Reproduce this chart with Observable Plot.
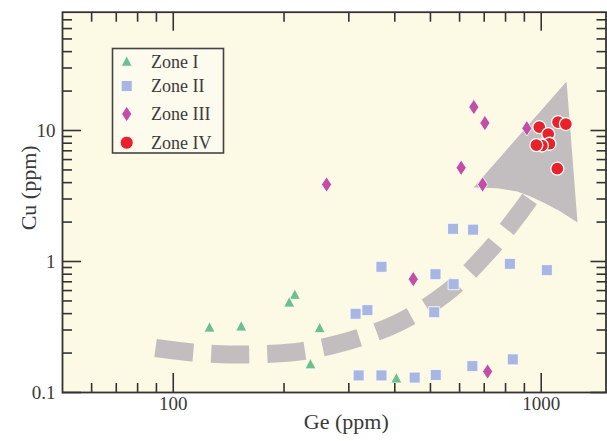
<!DOCTYPE html>
<html><head><meta charset="utf-8">
<script src="https://cdn.jsdelivr.net/npm/d3@7"></script>
<script src="https://cdn.jsdelivr.net/npm/@observablehq/plot@0.6"></script>
<style>
body{margin:0;background:#fff;}
#wrap{position:relative;width:607px;height:441px;}
#legend{position:absolute;left:0;top:0;pointer-events:none;}
</style></head><body><div id="wrap"></div>
<script>
// ---- data ----
const zone1Ge = [125.5, 153, 214, 206.6, 250, 236, 404];
const zone1Cu = [0.313, 0.319, 0.557, 0.486, 0.31, 0.164, 0.128];
const zone2Ge = [319, 368, 453, 517, 650, 837, 313, 337, 512, 578, 516, 368, 822, 1036, 576, 653];
const zone2Cu = [0.135, 0.135, 0.130, 0.136, 0.159, 0.179, 0.399, 0.425, 0.41, 0.671, 0.80, 0.911, 0.96, 0.859, 1.776, 1.75];
const zone3Ge = [656, 703, 914, 606, 693, 261, 449, 715];
const zone3Cu = [15.1, 11.4, 10.4, 5.19, 3.87, 3.87, 0.733, 0.1445];
const zone4Ge = [988, 1045, 1111, 1167, 1053, 1004, 970, 1106];
const zone4Cu = [10.6, 9.39, 11.6, 11.2, 7.92, 7.68, 7.74, 5.11];
// gray trend arrow (dashed band + head), in data units
const bandGe = [89.5, 112.8, 143.2, 181.6, 221.8, 290, 404.5, 546, 706, 878.6, 1027];
const bandCu = [0.2186, 0.202, 0.195, 0.197, 0.206, 0.241, 0.336, 0.56, 1.13, 2.41, 4.46];
const headGe = [1172, 1255, 1128, 1027, 935, 861, 759, 655];
const headCu = [23.7, 1.985, 2.41, 2.77, 3.13, 3.42, 3.63, 3.67];
// ticks
const xMajor = [100, 1000];
const xMinor = [60, 70, 80, 90, 200, 300, 400, 500, 600, 700, 800, 900];
const yMajor = [0.1, 1, 10];
const yMinor = [0.2,0.3,0.4,0.5,0.6,0.7,0.8,0.9,2,3,4,5,6,7,8,9,20,30,40,50,60,70];
const zoneNames = ["Zone I", "Zone II", "Zone III", "Zone IV"];
const zoneColors = ["#6dc08b", "#a8b7e2", "#c24fa6", "#e8222a"];

const FONT = '"Liberation Serif", "Times New Roman", serif';
const INK = "#3a3a3a";
const GRAY = "#c2bdbe";

const symTri = {draw(c, s){const r=Math.sqrt(s/Math.PI); c.moveTo(0,-r*1.1); c.lineTo(r,r*0.82); c.lineTo(-r,r*0.82); c.closePath();}};
const symSq = {draw(c, s){const r=Math.sqrt(s/Math.PI); c.rect(-r,-r,2*r,2*r);}};
const symDia = {draw(c, s){const r=Math.sqrt(s/Math.PI); c.moveTo(0,-r*1.3); c.lineTo(r*0.85,0); c.lineTo(0,r*1.3); c.lineTo(-r*0.85,0); c.closePath();}};
const symCirc = {draw(c, s){const r=Math.sqrt(s/Math.PI); c.moveTo(r,0); c.arc(0,0,r,0,2*Math.PI);}};
const syms = [symTri, symSq, symDia, symCirc];
const sizes = [5.5, 5.5, 6, 6.5];

const zones = [[zone1Ge, zone1Cu], [zone2Ge, zone2Cu], [zone3Ge, zone3Cu], [zone4Ge, zone4Cu]];
const idx = a => a.map((_, i) => i);

const pointMarks = zones.map(([gx, cy], k) =>
  Plot.dot(idx(gx), {x: i => gx[i], y: i => cy[i], symbol: syms[k], r: sizes[k],
    fill: zoneColors[k], stroke: "white", strokeWidth: k === 3 ? 1.3 : 0.8}));

const tickStyle = {stroke: "#333", strokeWidth: 1.6, tickFormat: () => "", label: null};

const chart = Plot.plot({
  width: 607, height: 441,
  marginLeft: 62, marginRight: 1.5, marginTop: 11.7, marginBottom: 49,
  style: {fontFamily: FONT, color: INK, background: "white", overflow: "visible"},
  x: {type: "log", domain: [50, 1500]},
  y: {type: "log", domain: [0.1, 80]},
  marks: [
    Plot.frame({fill: "#fcf9e4", stroke: null}),
    Plot.line(idx(bandGe), {x: i => bandGe[i], y: i => bandCu[i], stroke: GRAY, strokeWidth: 18,
      strokeDasharray: "38,18", strokeLinecap: "butt", curve: "catmull-rom"}),
    Plot.line(idx(headGe), {x: i => headGe[i], y: i => headCu[i], fill: GRAY, stroke: "none", curve: "linear-closed"}),
    ...pointMarks,
    Plot.axisX({...tickStyle, anchor: "bottom", ticks: xMajor, tickSize: -19}),
    Plot.axisX({...tickStyle, anchor: "bottom", ticks: xMinor, tickSize: -9}),
    Plot.axisX({...tickStyle, anchor: "top", ticks: xMajor, tickSize: -18}),
    Plot.axisX({...tickStyle, anchor: "top", ticks: xMinor, tickSize: -9}),
    Plot.axisY({...tickStyle, anchor: "left", ticks: yMajor, tickSize: -19}),
    Plot.axisY({...tickStyle, anchor: "left", ticks: yMinor, tickSize: -10}),
    Plot.axisY({...tickStyle, anchor: "right", ticks: yMajor, tickSize: -16}),
    Plot.axisY({...tickStyle, anchor: "right", ticks: yMinor, tickSize: -10}),
    Plot.text(xMajor, {x: d => d, frameAnchor: "bottom", dy: 17, text: d => String(d), fontSize: 19, fill: INK}),
    Plot.text(yMajor, {y: d => d, frameAnchor: "left", dx: -7, textAnchor: "end", text: d => String(d), fontSize: 19, fill: INK}),
    Plot.text(["Ge (ppm)"], {frameAnchor: "bottom", dx: 12, dy: 36, text: d => d, fontSize: 22, fill: INK}),
    Plot.text(["Cu (ppm)"], {frameAnchor: "left", dx: -34, dy: 28, rotate: -90, text: d => d, fontSize: 22, fill: INK}),
    Plot.frame({stroke: "#333", strokeWidth: 1.8})
  ]
});
const wrap = document.getElementById("wrap");
wrap.appendChild(chart);

// legend overlay
const lg = d3.select(wrap).append("svg").attr("id", "legend").attr("width", 607).attr("height", 441);
lg.append("rect").attr("x", 112.5).attr("y", 48.5).attr("width", 111).attr("height", 104.5)
  .attr("fill", "#fdfbed").attr("stroke", "#444").attr("stroke-width", 1.6);
const rowY = [61.7, 86, 114, 142.7];
zoneNames.forEach((name, k) => {
  const r = sizes[k];
  lg.append("path").attr("transform", `translate(126.7,${rowY[k]})`)
    .attr("d", d3.symbol(syms[k], Math.PI * r * r)())
    .attr("fill", zoneColors[k]).attr("stroke", "white").attr("stroke-width", 0.8);
  lg.append("text").attr("x", 151).attr("y", rowY[k]).attr("dy", "0.35em")
    .attr("font-family", FONT).attr("font-size", 18).attr("fill", INK).text(name);
});
</script></body></html>
